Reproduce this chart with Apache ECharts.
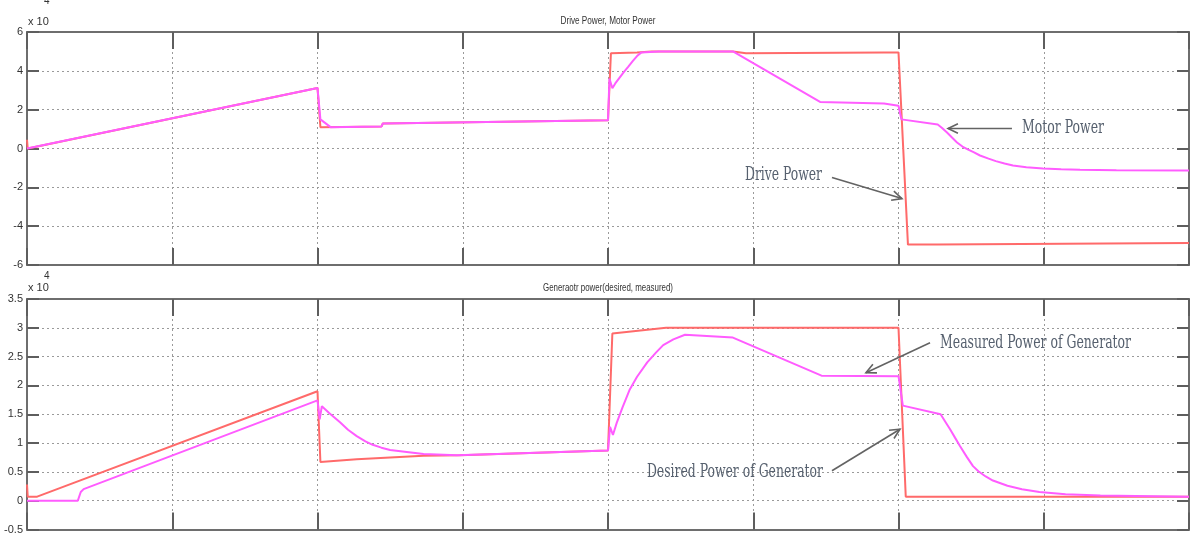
<!DOCTYPE html>
<html><head><meta charset="utf-8">
<script src="https://cdn.jsdelivr.net/npm/echarts@6/dist/echarts.min.js"></script>
<style>html,body{margin:0;padding:0;background:#fff}#c{width:1191px;height:535px}</style>
</head><body><div id="c"></div>
<script>
// ---------- DATA (x in grid divisions 0..8, y in units of 10^4) ----------
const xTicks = [0, 1, 2, 3, 4, 5, 6, 7, 8];
const topYTicks = [-6, -4, -2, 0, 2, 4, 6];
const botYTicks = [-0.5, 0, 0.5, 1, 1.5, 2, 2.5, 3, 3.5];

const topTitle = 'Drive Power, Motor Power';
const botTitle = 'Generaotr power(desired, measured)';
const expLabel = 'x 10';
const expPower = '4';

const drivePower = [
  [0, 0.45], [0.005, 0], [2.0, 3.12], [2.02, 1.1], [2.44, 1.13], [2.45, 1.29],
  [4.0, 1.45], [4.02, 4.9], [4.2, 4.95], [4.3, 5.0], [4.86, 5.0], [4.95, 4.9],
  [5.9, 4.95], [6.0, 4.95], [6.065, -4.95], [6.27, -4.95], [6.28, -4.9], [8, -4.87]
];
const motorPower = [
  [0, 0], [2.0, 3.12], [2.02, 1.5], [2.09, 1.1], [2.44, 1.13], [2.45, 1.29],
  [4.0, 1.45], [4.01, 3.6], [4.03, 3.1], [4.05, 3.35], [4.08, 3.65], [4.11, 3.95],
  [4.14, 4.22], [4.17, 4.5], [4.2, 4.76], [4.23, 4.95], [4.35, 5.0], [4.86, 5.0],
  [5.46, 2.4], [5.9, 2.32], [6.0, 2.2], [6.02, 1.5], [6.27, 1.24], [6.3, 1.06],
  [6.334, 0.82], [6.37, 0.55], [6.403, 0.31], [6.44, 0.1], [6.48, -0.06],
  [6.52, -0.2], [6.561, -0.36], [6.62, -0.52], [6.67, -0.65], [6.73, -0.77],
  [6.788, -0.88], [6.88, -0.97], [6.995, -1.03], [7.12, -1.07], [7.25, -1.1],
  [7.5, -1.12], [8, -1.13]
];
const desiredGen = [
  [0, 0.28], [0.005, 0.07], [0.07, 0.07], [2.0, 1.9], [2.02, 0.67], [2.27, 0.72],
  [2.73, 0.78], [2.98, 0.79], [4.0, 0.87], [4.03, 2.9], [4.4, 3.0], [6.0, 3.0],
  [6.05, 0.07], [8, 0.07]
];
const measuredGen = [
  [0, 0], [0.35, 0], [0.37, 0.15], [0.39, 0.2], [2.0, 1.74], [2.015, 1.41],
  [2.03, 1.64], [2.08, 1.52], [2.155, 1.36], [2.21, 1.23], [2.27, 1.12],
  [2.33, 1.03], [2.38, 0.97], [2.44, 0.92], [2.5, 0.88], [2.6, 0.85],
  [2.73, 0.81], [2.96, 0.79], [4.0, 0.87], [4.014, 1.28], [4.034, 1.14],
  [4.06, 1.35], [4.1, 1.62], [4.15, 1.93], [4.2, 2.15], [4.27, 2.4], [4.33, 2.57],
  [4.38, 2.7], [4.45, 2.8], [4.53, 2.88], [4.86, 2.83], [5.47, 2.17], [6.0, 2.16],
  [6.03, 1.65], [6.29, 1.5], [6.32, 1.38], [6.355, 1.24], [6.39, 1.09],
  [6.423, 0.95], [6.47, 0.76], [6.513, 0.6], [6.55, 0.51], [6.6, 0.42],
  [6.65, 0.35], [6.75, 0.26], [6.85, 0.2], [6.97, 0.15], [7.15, 0.11],
  [7.39, 0.09], [8, 0.07]
];

// annotations: [grid, text, textAnchor, arrowTail, arrowTip, targetWidth]
const annotations = [
  [0, 'Motor Power', [6.85, 1.03], [6.781, 1.03], [6.341, 1.03], 82],
  [0, 'Drive Power', [4.943, -1.39], [5.542, -1.49], [6.024, -2.58], 77],
  [1, 'Measured Power of Generator', [6.286, 2.74], [6.217, 2.74], [5.776, 2.22], 191],
  [1, 'Desired Power of Generator', [4.268, 0.5], [5.542, 0.52], [6.01, 1.24], 176]
];

// ---------- CHART ----------
const RED = '#ff6a6a', MAG = '#ff5cff';
const grids = [
  { left: 27, top: 32, width: 1162, height: 233 },
  { left: 27, top: 299, width: 1162, height: 232 }
];
const frame = { color: '#6e6e6e', width: 2 };
const tickStyle = { color: '#5e5e5e', width: 2 };
const gridLine = { color: '#9a9a9a', width: 1, type: [2, 3] };

function xAxes(gi) {
  return [
    { type: 'value', gridIndex: gi, min: xTicks[0], max: xTicks[xTicks.length - 1], interval: 1,
      axisLabel: { show: false }, axisLine: { show: true, onZero: false, lineStyle: frame },
      axisTick: { show: true, inside: true, length: 17, lineStyle: tickStyle },
      splitLine: { show: true, lineStyle: gridLine } },
    { type: 'value', gridIndex: gi, position: 'top', min: xTicks[0], max: xTicks[xTicks.length - 1], interval: 1,
      axisLabel: { show: false }, axisLine: { show: true, onZero: false, lineStyle: frame },
      axisTick: { show: true, inside: true, length: 17, lineStyle: tickStyle },
      splitLine: { show: false } }
  ];
}
function yAxes(gi, ticks) {
  const mn = ticks[0], mx = ticks[ticks.length - 1], iv = ticks[1] - ticks[0];
  return [
    { type: 'value', gridIndex: gi, min: mn, max: mx, interval: iv,
      axisLabel: { show: true, color: '#333', fontSize: 11, fontFamily: 'Liberation Sans', margin: 4 },
      axisLine: { show: true, onZero: false, lineStyle: frame },
      axisTick: { show: true, inside: true, length: 12, lineStyle: tickStyle },
      splitLine: { show: true, lineStyle: gridLine } },
    { type: 'value', gridIndex: gi, position: 'right', min: mn, max: mx, interval: iv,
      axisLabel: { show: false }, axisLine: { show: true, onZero: false, lineStyle: frame },
      axisTick: { show: true, inside: true, length: 12, lineStyle: tickStyle },
      splitLine: { show: false } }
  ];
}
function line(data, color, xi, yi) {
  return { type: 'line', data: data, xAxisIndex: xi, yAxisIndex: yi, showSymbol: false,
    symbol: 'none', animation: false, lineStyle: { color: color, width: 2 }, z: 3 };
}

const chart = echarts.init(document.getElementById('c'), null, { renderer: 'canvas' });
chart.setOption({
  animation: false,
  backgroundColor: '#fff',
  grid: grids,
  xAxis: [...xAxes(0), ...xAxes(1)],
  yAxis: [...yAxes(0, topYTicks), ...yAxes(1, botYTicks)],
  series: [
    line(drivePower, RED, 0, 0),
    line(motorPower, MAG, 0, 0),
    line(desiredGen, RED, 2, 2),
    line(measuredGen, MAG, 2, 2)
  ]
});

// ---------- TEXT & ARROWS ----------
const mctx = document.createElement('canvas').getContext('2d');
function fitScale(text, font, target) {
  mctx.font = font;
  const w = mctx.measureText(text).width;
  return w > 0 ? target / w : 1;
}
const annFont = '19px "DejaVu Serif Condensed", "DejaVu Serif", serif';
const titleFont = '11px "Liberation Sans", Arial, sans-serif';
const g = [];
function px(gi, p) { return chart.convertToPixel({ gridIndex: gi }, p); }

// titles (centered over each plot)
[[0, topTitle, 21, 95], [1, botTitle, 288, 130]].forEach(([gi, t, y, w]) => {
  const cx = grids[gi].left + grids[gi].width / 2;
  g.push({ type: 'text', x: cx, y: y, scaleX: fitScale(t, titleFont, w), z: 10,
    style: { text: t, font: titleFont, fill: '#333', align: 'center', verticalAlign: 'middle' } });
});
// exponent labels (top one is cut by the picture's upper edge)
[[0, 22, 1], [1, 288, 276]].forEach(([gi, y, ey]) => {
  g.push({ type: 'text', x: 28, y: y, z: 10,
    style: { text: expLabel, font: '11px "Liberation Sans", Arial', fill: '#333', align: 'left', verticalAlign: 'middle' } });
  g.push({ type: 'text', x: 44, y: ey, z: 10,
    style: { text: expPower, font: '10px "Liberation Sans", Arial', fill: '#333', align: 'left', verticalAlign: 'middle' } });
});

annotations.forEach(([gi, text, tp, tail, tip, w]) => {
  const p = px(gi, tp);
  g.push({ type: 'text', x: p[0], y: p[1], scaleX: fitScale(text, annFont, w), z: 20,
    style: { text: text, font: annFont, fill: '#56606e', align: 'left', verticalAlign: 'middle' } });
  const a = px(gi, tail), b = px(gi, tip);
  const ang = Math.atan2(b[1] - a[1], b[0] - a[0]);
  const hl = 11, ha = 0.45;
  const h1 = [b[0] - hl * Math.cos(ang - ha), b[1] - hl * Math.sin(ang - ha)];
  const h2 = [b[0] - hl * Math.cos(ang + ha), b[1] - hl * Math.sin(ang + ha)];
  const st = { stroke: '#636363', lineWidth: 1.6, fill: null };
  g.push({ type: 'polyline', z: 20, shape: { points: [a, b] }, style: st });
  g.push({ type: 'polyline', z: 20, shape: { points: [h1, b, h2] }, style: st });
});
chart.setOption({ graphic: g });
</script></body></html>
